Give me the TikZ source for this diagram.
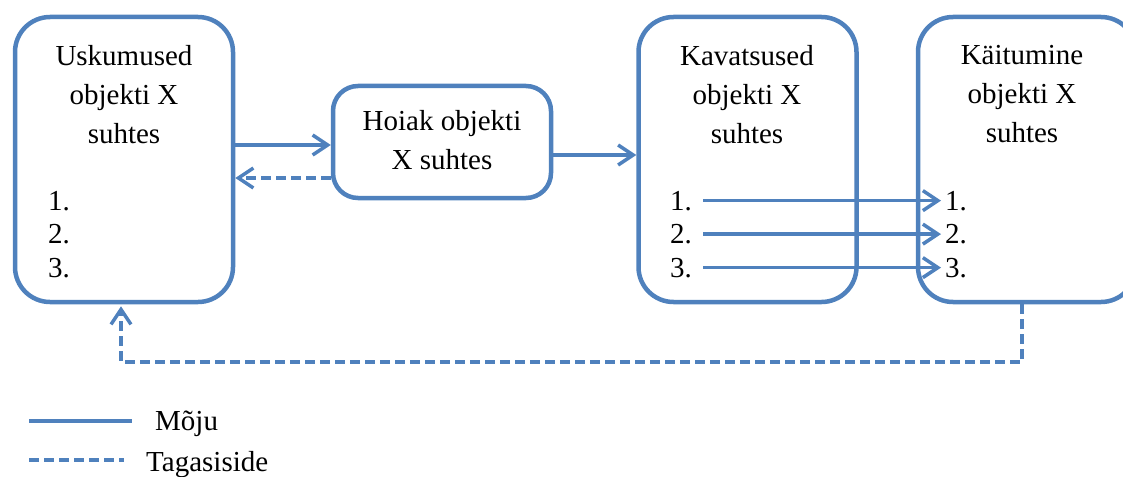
\documentclass[tikz,border=0pt]{standalone}
\usepackage{fontspec}
\setmainfont{Liberation Serif}
\usetikzlibrary{arrows.meta}
\definecolor{obl}{HTML}{4F81BD}
\tikzset{
  box/.style={draw=obl, line width=4.5pt, rounded corners=35pt, fill=white, minimum width=218pt, inner sep=0pt},
  ttl/.style={font=\fontsize{29}{39}\selectfont, align=center, anchor=north, inner sep=0pt},
  num/.style={font=\fontsize{29}{34}\selectfont, anchor=base west, inner sep=0pt},
  conn/.style={draw=obl, line width=3.5pt, -{Straight Barb[length=15pt,width=20pt,line width=3.5pt]}},
  fb/.style={draw=obl, line width=3.5pt, dash pattern=on 10pt off 5pt, -{Straight Barb[length=15pt,width=20pt,line width=3.5pt]}},
  leg/.style={draw=obl, line width=3.5pt},
  legtxt/.style={font=\fontsize{29}{34}\selectfont, anchor=base west, inner sep=0pt}
}
\begin{document}
\begin{tikzpicture}[x=1pt,y=-1pt]
\useasboundingbox (0,0) rectangle (1123,476);
\clip (0,0) rectangle (1123,476);
% boxes
\node[box, minimum height=285pt] (usk) at (124,159.5) {};
\node[box, minimum height=112pt, rounded corners=25pt] (hoi) at (442,142) {};
\node[box, minimum height=285pt] (kav) at (747.5,159.5) {};
\node[box, minimum height=285pt] (kai) at (1027,159.5) {};
% titles
\node[ttl] (uskt) at (124,45) {Uskumused\\objekti X\\suhtes};
\node[ttl] (hoit) at (442,110) {Hoiak objekti\\X suhtes};
\node[ttl] (kavt) at (747,45) {Kavatsused\\objekti X\\suhtes};
\node[ttl] (kait) at (1022,45) {Käitumine\\objekti X\\suhtes};
% numbers
\node[num] (u1) at (48,210) {1.};
\node[num] (u2) at (48,243.5) {2.};
\node[num] (u3) at (48,277) {3.};
\node[num] (k1) at (670,210) {1.};
\node[num] (k2) at (670,243.5) {2.};
\node[num] (k3) at (670,277) {3.};
\node[num] (b1) at (945,210) {1.};
\node[num] (b2) at (945,243.5) {2.};
\node[num] (b3) at (945,277) {3.};
% connectors
\draw[conn] ([yshift=14.5pt]usk.east) -- ([yshift=-3pt]hoi.west);
\draw[fb] ([yshift=-36pt]hoi.west) -- ([yshift=-18.5pt]usk.east);
\draw[conn] ([yshift=-13pt]hoi.east) -- ([yshift=4.5pt]kav.west);
\draw[conn] ([xshift=11pt]k1.east) -- ([xshift=-4pt]b1.west);
\draw[conn] ([xshift=11pt]k2.east) -- ([xshift=-4pt]b2.west);
\draw[conn] ([xshift=11pt]k3.east) -- ([xshift=-4pt]b3.west);
% feedback
\coordinate (fbR) at (1022,362);
\coordinate (fbL) at (121,362);
\draw[fb] (kai.south -| fbR) -- (fbR) -- (fbL) -- ([yshift=-2pt]usk.south -| fbL);
% legend
\coordinate (l1a) at (29,421);
\coordinate (l1b) at (132,421);
\coordinate (l2a) at (29,460);
\coordinate (l2b) at (124,460);
\draw[leg] (l1a) -- (l1b);
\draw[leg, dash pattern=on 10pt off 5pt] (l2a) -- (l2b);
\node[legtxt] (moju) at (155,430) {Mõju};
\node[legtxt] (tag) at (146,471) {Tagasiside};
\end{tikzpicture}
\end{document}
